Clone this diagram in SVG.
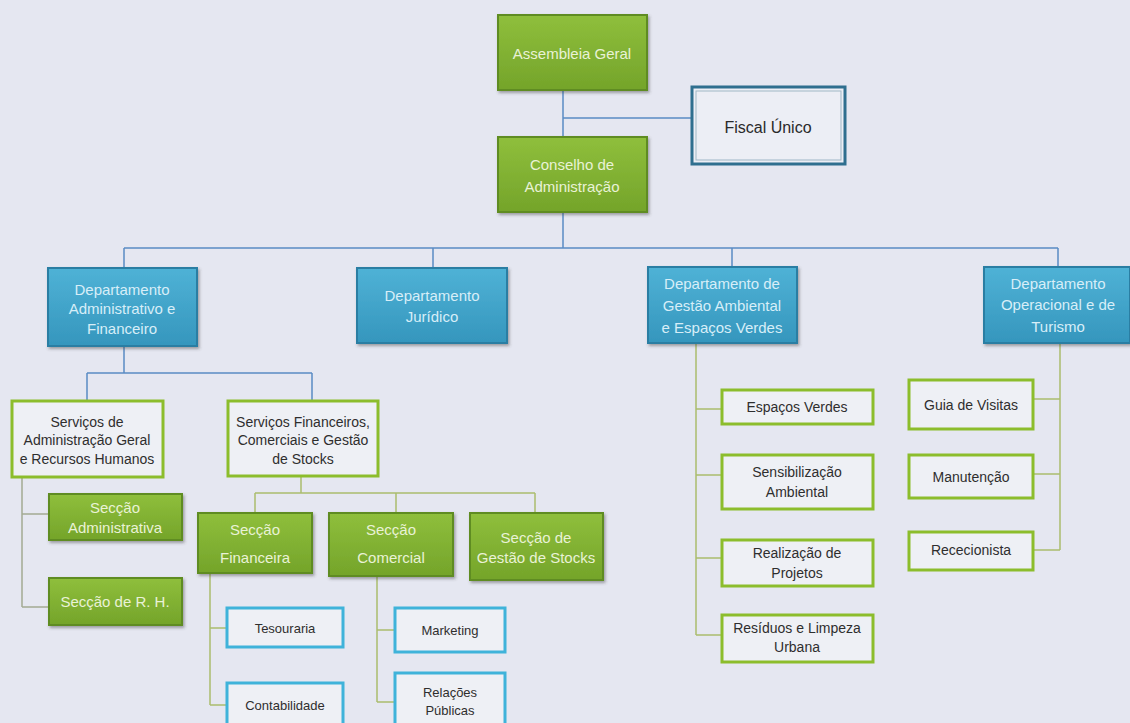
<svg xmlns="http://www.w3.org/2000/svg" width="1130" height="723" viewBox="0 0 1130 723">
<defs>
<filter id="sh" x="-10%" y="-10%" width="125%" height="130%">
<feDropShadow dx="1.5" dy="2" stdDeviation="1.5" flood-color="#404040" flood-opacity="0.45"/>
</filter>
<linearGradient id="gg" x1="0" y1="0" x2="0" y2="1">
<stop offset="0" stop-color="#8fbf3c"/>
<stop offset="1" stop-color="#74a42a"/>
</linearGradient>
<linearGradient id="bg" x1="0" y1="0" x2="0" y2="1">
<stop offset="0" stop-color="#4fb2d6"/>
<stop offset="1" stop-color="#3596bd"/>
</linearGradient>
</defs>
<style>
text{font-family:"Liberation Sans",Arial,sans-serif;text-anchor:middle;dominant-baseline:central}
.gf{fill:url(#gg);stroke:#5e8c22;stroke-width:2;filter:url(#sh)}
.bf{fill:url(#bg);stroke:#2a7ea3;stroke-width:2;filter:url(#sh)}
.go{fill:#eef0f5;stroke:#8cbd2c;stroke-width:3}
.bo{fill:#eef0f5;stroke:#3fb3da;stroke-width:3}
.lt{fill:#e9f2d6;font-size:15px}
.lb{fill:#d7eef8;font-size:15px}
.dk{fill:#2e2e2e;font-size:14px}
.sm{fill:#2e2e2e;font-size:13px}
.cb{fill:none;stroke:#5a8cc4;stroke-width:1.5}
.cg{fill:none;stroke:#aabd6e;stroke-width:1.5}
.cgr{fill:none;stroke:#a3aa92;stroke-width:1.5}
</style>
<rect width="1130" height="723" fill="#e5e7f1"/>
<g id="connectors">
<path class="cb" d="M563 90V137M563 118H692M563 212V248M124 248H1058M124 248V268M433 248V268M732 248V267M1058 248V267M124 346V373M87 373H312M87 373V401M312 373V401"/>
<path class="cgr" d="M22 477V607M22 514H49M22 607H49"/>
<path class="cg" d="M301 476V493M255 493H535M255 493V513M396 493V513M535 493V513"/>
<path class="cg" d="M210 573V705M210 628H227M210 705H227"/>
<path class="cg" d="M377 576V702M377 630H395M377 702H395"/>
<path class="cg" d="M696 343V635M696 409H722M696 475H722M696 558H722M696 635H722"/>
<path class="cg" d="M1060 342V550M1033 399H1060M1033 474H1060M1033 550H1060"/>
</g>
<g id="assembleia"><rect class="gf" x="498" y="15" width="149" height="75"/><text class="lt" x="572" y="53" font-size="16">Assembleia Geral</text></g>
<g id="fiscal"><rect x="692" y="87" width="153" height="77" fill="#eceef5" stroke="#2f6f8f" stroke-width="3"/><rect x="696" y="91" width="145" height="69" fill="none" stroke="#9fb7c6" stroke-width="1"/><text x="768" y="127" style="fill:#2a2a2a;font-size:16px">Fiscal Único</text></g>
<g id="conselho"><rect class="gf" x="498" y="137" width="149" height="75"/><text class="lt" x="572" y="164">Conselho de</text><text class="lt" x="572" y="186">Administração</text></g>
<g id="dep-adm"><rect class="bf" x="48" y="268" width="149" height="78"/><text class="lb" x="122" y="289">Departamento</text><text class="lb" x="122" y="308">Administrativo e</text><text class="lb" x="122" y="328">Financeiro</text></g>
<g id="dep-jur"><rect class="bf" x="357" y="268" width="150" height="75"/><text class="lb" x="432" y="295">Departamento</text><text class="lb" x="432" y="316">Jurídico</text></g>
<g id="dep-amb"><rect class="bf" x="648" y="267" width="149" height="76"/><text class="lb" x="722" y="283">Departamento de</text><text class="lb" x="722" y="305">Gestão Ambiental</text><text class="lb" x="722" y="327">e Espaços Verdes</text></g>
<g id="dep-op"><rect class="bf" x="984" y="267" width="146" height="76"/><text class="lb" x="1058" y="283">Departamento</text><text class="lb" x="1058" y="304">Operacional e de</text><text class="lb" x="1058" y="326">Turismo</text></g>
<g id="serv-adm"><rect class="go" x="12" y="401" width="151" height="76"/><text class="dk" x="87" y="422">Serviços de</text><text class="dk" x="87" y="440">Administração Geral</text><text class="dk" x="87" y="459">e Recursos Humanos</text></g>
<g id="serv-fin"><rect class="go" x="228" y="401" width="150" height="75"/><text class="dk" x="303" y="422">Serviços Financeiros,</text><text class="dk" x="303" y="440">Comerciais e Gestão</text><text class="dk" x="303" y="459">de Stocks</text></g>
<g id="sec-adm"><rect class="gf" x="49" y="494" width="133" height="46"/><text class="lt" x="115" y="507" font-size="14">Secção</text><text class="lt" x="115" y="527" font-size="14">Administrativa</text></g>
<g id="sec-rh"><rect class="gf" x="49" y="578" width="133" height="47"/><text class="lt" x="115" y="601" font-size="14">Secção de R. H.</text></g>
<g id="sec-fin"><rect class="gf" x="198" y="513" width="114" height="60"/><text class="lt" x="255" y="529" font-size="14">Secção</text><text class="lt" x="255" y="557" font-size="14">Financeira</text></g>
<g id="sec-com"><rect class="gf" x="329" y="513" width="124" height="63"/><text class="lt" x="391" y="529" font-size="14">Secção</text><text class="lt" x="391" y="557" font-size="14">Comercial</text></g>
<g id="sec-stk"><rect class="gf" x="470" y="513" width="133" height="67"/><text class="lt" x="536" y="537" font-size="14">Secção de</text><text class="lt" x="536" y="557" font-size="14">Gestão de Stocks</text></g>
<g id="tesouraria"><rect class="bo" x="227" y="608" width="116" height="39"/><text class="sm" x="285" y="628">Tesouraria</text></g>
<g id="contabilidade"><rect class="bo" x="227" y="683" width="116" height="42"/><text class="sm" x="285" y="705">Contabilidade</text></g>
<g id="marketing"><rect class="bo" x="395" y="608" width="110" height="44"/><text class="sm" x="450" y="630">Marketing</text></g>
<g id="relacoes"><rect class="bo" x="395" y="673" width="110" height="52"/><text class="sm" x="450" y="692">Relações</text><text class="sm" x="450" y="710">Públicas</text></g>
<g id="espacos"><rect class="go" x="722" y="390" width="151" height="34"/><text class="dk" x="797" y="407" font-size="15">Espaços Verdes</text></g>
<g id="sensib"><rect class="go" x="722" y="455" width="151" height="54"/><text class="dk" x="797" y="472">Sensibilização</text><text class="dk" x="797" y="492">Ambiental</text></g>
<g id="realiz"><rect class="go" x="722" y="540" width="151" height="46"/><text class="dk" x="797" y="553">Realização de</text><text class="dk" x="797" y="573">Projetos</text></g>
<g id="residuos"><rect class="go" x="722" y="615" width="151" height="47"/><text class="dk" x="797" y="628">Resíduos e Limpeza</text><text class="dk" x="797" y="647">Urbana</text></g>
<g id="guia"><rect class="go" x="909" y="380" width="124" height="49"/><text class="dk" x="971" y="405">Guia de Visitas</text></g>
<g id="manut"><rect class="go" x="909" y="455" width="124" height="43"/><text class="dk" x="971" y="477">Manutenção</text></g>
<g id="rece"><rect class="go" x="909" y="532" width="124" height="38"/><text class="dk" x="971" y="550">Rececionista</text></g>
</svg>
